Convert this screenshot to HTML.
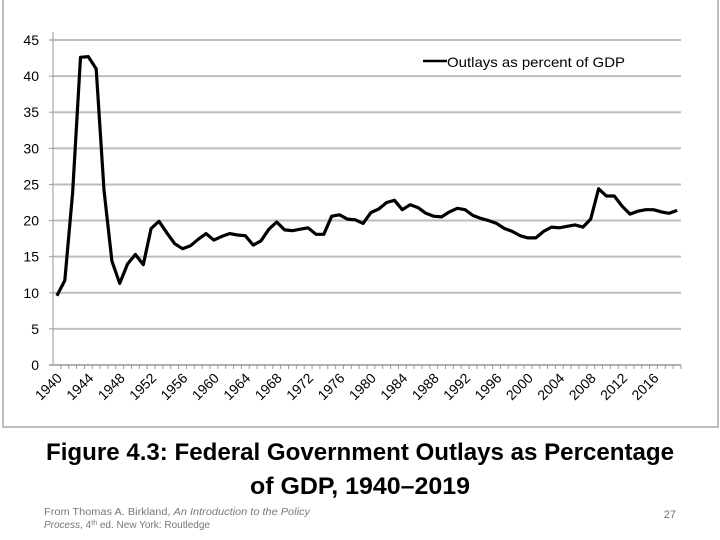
<!DOCTYPE html>
<html><head><meta charset="utf-8"><style>
body{margin:0;background:#fff;width:720px;height:540px;overflow:hidden}
svg{display:block}
</style></head><body>
<svg id="chart" width="720" height="540" viewBox="0 0 720 540" font-family="'Liberation Sans', sans-serif">
<rect x="3" y="-5" width="715" height="432" fill="none" stroke="#bfbfbf" stroke-width="2"/>
<g id="grid"></g>
<g id="yaxis"></g>
<g id="xaxis"></g>
<path id="line" fill="none" stroke="#000" stroke-width="3.2" stroke-linejoin="round"/>
<g>
<line x1="423" y1="61" x2="447" y2="61" stroke="#000" stroke-width="2.5"/>
<text x="447" y="67" font-size="14" fill="#000" textLength="178" lengthAdjust="spacingAndGlyphs">Outlays as percent of GDP</text>
</g>
<text x="360" y="460" text-anchor="middle" font-size="24" font-weight="bold" fill="#000" textLength="628" lengthAdjust="spacingAndGlyphs">Figure 4.3: Federal Government Outlays as Percentage</text>
<text x="360" y="494" text-anchor="middle" font-size="24" font-weight="bold" fill="#000" textLength="220" lengthAdjust="spacingAndGlyphs">of GDP, 1940–2019</text>
<text x="44" y="515" font-size="10" fill="#777" textLength="266" lengthAdjust="spacingAndGlyphs">From Thomas A. Birkland, <tspan font-style="italic">An Introduction to the Policy</tspan></text>
<text x="44" y="528" font-size="10" fill="#777"><tspan font-style="italic">Process</tspan>, 4<tspan font-size="7" dy="-3">th</tspan><tspan dy="3"> ed. New York: Routledge</tspan></text>
<text x="676" y="518" text-anchor="end" font-size="11" fill="#777">27</text>
</svg>
<script>
const years = [];
for (let y = 1940; y <= 2019; y++) years.push(y);
const outlays = [9.6,11.7,23.8,42.6,42.7,41.0,24.2,14.4,11.3,14.0,15.3,13.9,18.9,19.9,18.3,16.8,16.1,16.5,17.4,18.2,17.3,17.8,18.2,18.0,17.9,16.6,17.2,18.8,19.8,18.7,18.6,18.8,19.0,18.1,18.1,20.6,20.8,20.2,20.1,19.6,21.1,21.6,22.5,22.8,21.5,22.2,21.8,21.0,20.6,20.5,21.2,21.7,21.5,20.7,20.3,20.0,19.6,18.9,18.5,17.9,17.6,17.6,18.5,19.1,19.0,19.2,19.4,19.1,20.2,24.4,23.4,23.4,22.0,20.9,21.3,21.5,21.5,21.2,21.0,21.4];
const yTicks = [0,5,10,15,20,25,30,35,40,45];
const NS = 'http://www.w3.org/2000/svg';
const L = 53, R = 681, T = 40, B = 365, yMax = 45;
const step = (R - L) / years.length;
const xs = i => L + step * (i + 0.5);
const ys = v => B - (v / yMax) * (B - T);
function mk(tag, attrs, parent) { const e = document.createElementNS(NS, tag); for (const k in attrs) e.setAttribute(k, attrs[k]); parent.appendChild(e); return e; }
const grid = document.getElementById('grid'), yax = document.getElementById('yaxis'), xax = document.getElementById('xaxis');
yTicks.forEach(t => {
  if (t > 0) {
    const g = mk('line', {x1: L, x2: R, y1: ys(t), y2: ys(t), stroke: '#bdbdbd', 'stroke-width': 2}, grid);
    
    
  }
  const tk = mk('line', {x1: L - 4, x2: L, y1: ys(t), y2: ys(t), stroke: '#999', 'stroke-width': 1}, yax);
  
  
  const lb = mk('text', {x: L - 14, y: ys(t) + 5, 'text-anchor': 'end', 'font-size': 14, fill: '#000'}, yax);
  
  
  lb.textContent = t;
});
const yl = mk('line', {x1: L, x2: L, y1: T - 8, y2: B, stroke: '#999', 'stroke-width': 1}, yax);


const xl = mk('line', {x1: L - 4, x2: R, y1: B, y2: B, stroke: '#999', 'stroke-width': 1.5}, xax);


years.forEach((yr, i) => {
  const tx = L + step * (i + 1);
  const tk = mk('line', {x1: tx, x2: tx, y1: B, y2: B + 4, stroke: '#999', 'stroke-width': 1}, xax);
  
  
  if (yr % 4 === 0) {
    const x = xs(i) + 6, y = B + 14;
    const lb = mk('text', {x: x, y: y, 'text-anchor': 'end', 'font-size': 14, fill: '#000', transform: `rotate(-45 ${x} ${y})`}, xax);
    
    
    lb.textContent = yr;
  }
});
document.getElementById('line').setAttribute('d', outlays.map((v, i) => (i ? 'L' : 'M') + xs(i).toFixed(1) + ' ' + ys(v).toFixed(1)).join(' '));
</script>
</body></html>
